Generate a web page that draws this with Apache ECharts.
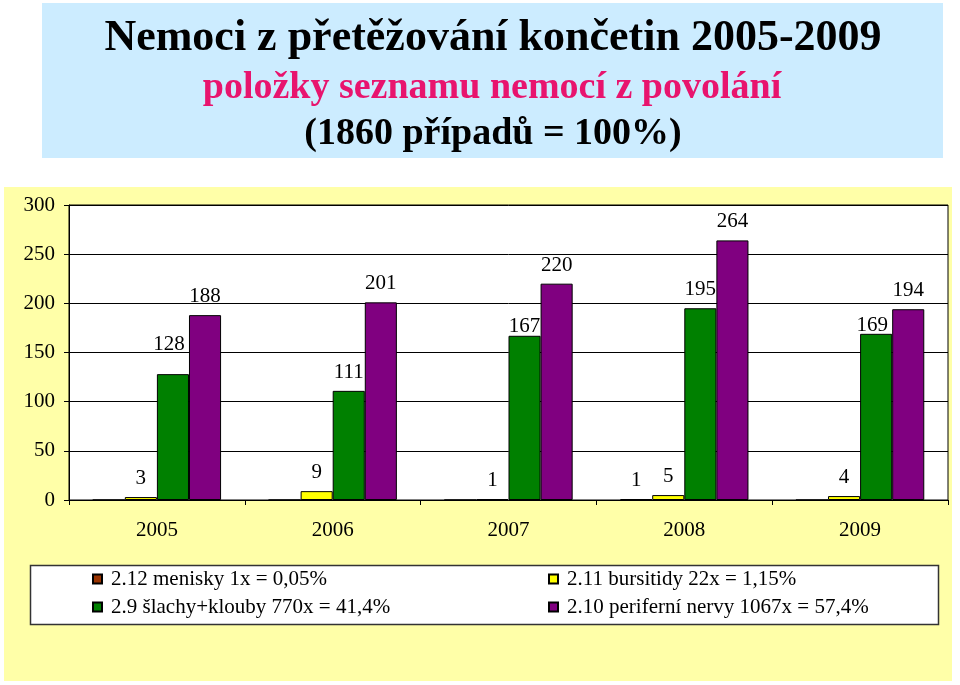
<!DOCTYPE html>
<html>
<head>
<meta charset="utf-8">
<script src="https://cdn.jsdelivr.net/npm/echarts@6/dist/echarts.min.js"></script>
<style>
html,body{margin:0;padding:0;background:#fff;}
#chart{width:960px;height:685px;}
</style>
</head>
<body>
<div id="chart"></div>
<script>
// ---- data ----
var years = ['2005', '2006', '2007', '2008', '2009'];
var seriesNames = [
  '2.12 menisky 1x = 0,05%',
  '2.11 bursitidy 22x = 1,15%',
  '2.9 šlachy+klouby 770x = 41,4%',
  '2.10 periferní nervy 1067x = 57,4%'
];
var menisky = [0, 0, 0, 1, 0];
var bursitidy = [3, 9, 1, 5, 4];
var slachy = [128, 111, 167, 195, 169];
var nervy = [188, 201, 220, 264, 194];
var yTicks = [0, 50, 100, 150, 200, 250, 300];
var titleLines = [
  'Nemoci z přetěžování končetin 2005-2009',
  'položky seznamu nemocí z povolání',
  '(1860 případů = 100%)'
];

var FONT = '"Liberation Serif", "Times New Roman", Times, serif';
var colors = ['#993300', '#FFFF00', '#008000', '#800080'];
var values = [menisky, bursitidy, slachy, nervy];
// small label nudges (pixels) mimicking the original label placement
var labelNudge = { '2-0': [-4, -11], '2-2': [0, 9], '2-4': [-4, 10] };

var chart = echarts.init(document.getElementById('chart'));

var series = values.map(function (vals, i) {
  return {
    name: seriesNames[i],
    type: 'bar',
    data: vals.map(function (v, j) {
      var item = { value: v };
      var n = labelNudge[i + '-' + j];
      if (n) item.label = { offset: n };
      return item;
    }),
    barGap: '0%',
    barCategoryGap: '27%',
    itemStyle: { color: colors[i], borderColor: '#000', borderWidth: 1 },
    label: {
      show: true,
      position: 'top',
      distance: 8,
      fontFamily: FONT,
      fontSize: 21,
      color: '#000',
      formatter: function (p) { return p.value === 0 ? '' : String(p.value); }
    },
    emphasis: { disabled: true }
  };
});

var option = {
  animation: false,
  backgroundColor: '#ffffff',
  textStyle: { fontFamily: FONT },
  graphic: [
    { type: 'rect', z: -20, silent: true, shape: { x: 4, y: 187, width: 948, height: 494 }, style: { fill: '#FFFFA8' } },
    { type: 'rect', z: -20, silent: true, shape: { x: 42, y: 3, width: 901, height: 155 }, style: { fill: '#CCECFF' } },
    { type: 'rect', z: -10, silent: true, shape: { x: 30.5, y: 565.5, width: 908, height: 59 }, style: { fill: '#ffffff', stroke: '#333', lineWidth: 1.5 } },
    { type: 'text', z: 10, x: 493, y: 39, style: { text: titleLines[0], font: 'bold 44px ' + FONT, fill: '#000', textAlign: 'center', textVerticalAlign: 'middle' } },
    { type: 'text', z: 10, x: 492, y: 88, style: { text: titleLines[1], font: 'bold 38px ' + FONT, fill: '#E8146E', textAlign: 'center', textVerticalAlign: 'middle' } },
    { type: 'text', z: 10, x: 493, y: 134, style: { text: titleLines[2], font: 'bold 38px ' + FONT, fill: '#000', textAlign: 'center', textVerticalAlign: 'middle' } }
  ],
  grid: {
    left: 69, top: 205, width: 879, height: 295,
    show: true, backgroundColor: '#ffffff', borderColor: '#000', borderWidth: 1
  },
  legend: [
    {
      data: [seriesNames[0], seriesNames[2]],
      orient: 'vertical', left: 92, top: 568, padding: 0,
      itemWidth: 9, itemHeight: 9, itemGap: 6, icon: 'rect',
      selectedMode: false,
      textStyle: { fontFamily: FONT, fontSize: 21, color: '#000', lineHeight: 22, padding: [0, 0, 0, 4] }
    },
    {
      data: [seriesNames[1], seriesNames[3]],
      orient: 'vertical', left: 548, top: 568, padding: 0,
      itemWidth: 9, itemHeight: 9, itemGap: 6, icon: 'rect',
      selectedMode: false,
      textStyle: { fontFamily: FONT, fontSize: 21, color: '#000', lineHeight: 22, padding: [0, 0, 0, 4] }
    }
  ],
  xAxis: {
    type: 'category',
    data: years,
    axisLine: { show: true, lineStyle: { color: '#000', width: 1 } },
    axisTick: { show: true, length: 5, lineStyle: { color: '#000' } },
    axisLabel: { fontFamily: FONT, fontSize: 21, color: '#000', margin: 20 },
    splitLine: { show: false }
  },
  yAxis: {
    type: 'value',
    min: yTicks[0],
    max: yTicks[yTicks.length - 1],
    interval: yTicks[1] - yTicks[0],
    axisLine: { show: true, lineStyle: { color: '#000', width: 1 } },
    axisTick: { show: true, length: 5, lineStyle: { color: '#000' } },
    axisLabel: { fontFamily: FONT, fontSize: 21, color: '#000', margin: 14 },
    splitLine: { show: true, lineStyle: { color: '#000', width: 1 } }
  },
  series: series
};

chart.setOption(option);
</script>
</body>
</html>
